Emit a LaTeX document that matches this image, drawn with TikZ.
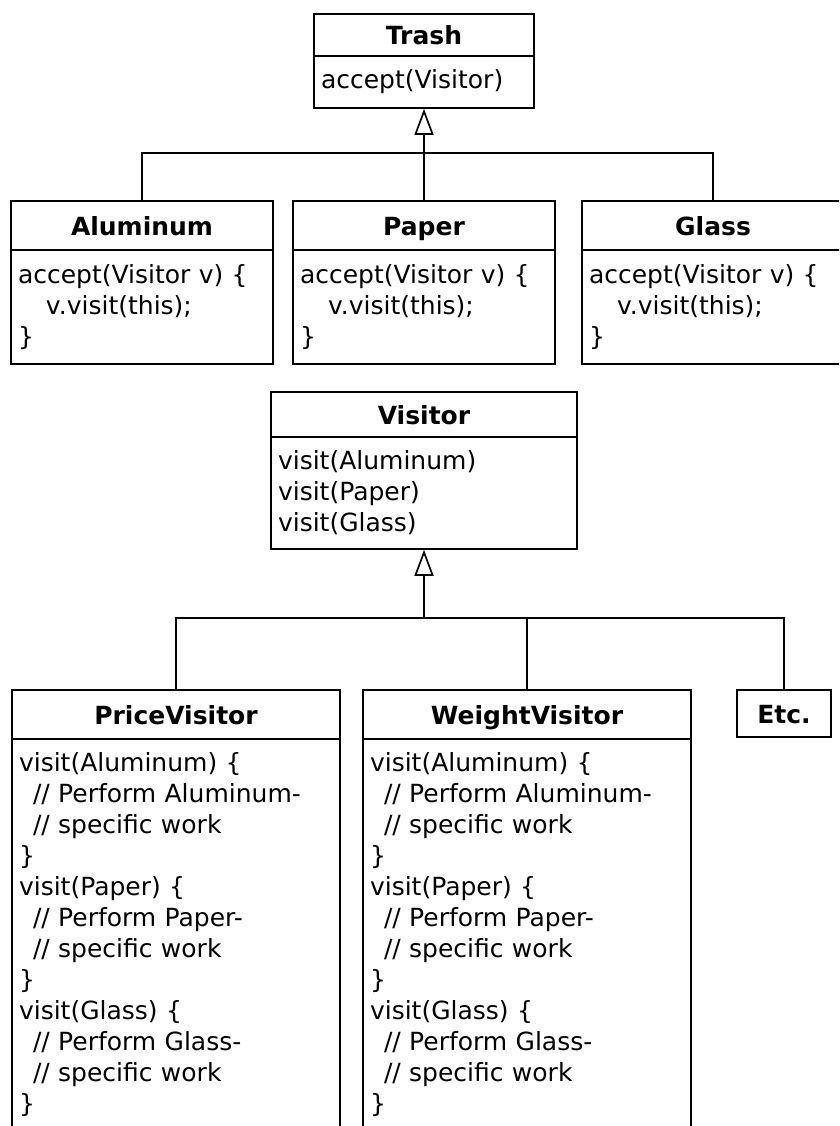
\documentclass[tikz,border=0pt]{standalone}
\usepackage{fontspec}
\setmainfont{DejaVu Sans}
\usetikzlibrary{arrows.meta}

\begin{document}
\begin{tikzpicture}[x=1pt,y=-1pt,line width=1.7pt,
  font=\fontsize{25}{31}\selectfont,
  head/.style={draw,font=\fontsize{25}{31}\selectfont\bfseries,inner sep=0pt,text height=19pt,text depth=0pt},
  body/.style={draw,align=left,inner xsep=7pt,inner ysep=0pt},
  inherits/.style={-{Triangle[open,length=26pt,width=19pt]}}]
\useasboundingbox (0,0) rectangle (839,1126);
\clip (0,0) rectangle (839,1126);
% trash hierarchy
\node (trash) at (424,35) [head,minimum width=220,minimum height=42] {Trash};
\node (trash-body) at (424,82) [body,text width=206,minimum height=52] {accept(Visitor)};
\node (aluminum) at (142,225.5) [head,minimum width=262,minimum height=49] {Aluminum};
\node (aluminum-body) at (142,307) [body,text width=248,minimum height=114] {accept(Visitor v) \{\\\hspace*{28pt}v.visit(this);\\\}};
\node (paper) at (424,225.5) [head,minimum width=262,minimum height=49] {Paper};
\node (paper-body) at (424,307) [body,text width=248,minimum height=114] {accept(Visitor v) \{\\\hspace*{28pt}v.visit(this);\\\}};
\node (glass) at (713,225.5) [head,minimum width=262,minimum height=49] {Glass};
\node (glass-body) at (713,307) [body,text width=248,minimum height=114] {accept(Visitor v) \{\\\hspace*{28pt}v.visit(this);\\\}};
\coordinate (top-bus) at (424,153);
\draw (aluminum.north) |- (top-bus);
\draw (glass.north) |- (top-bus);
\draw[inherits] (paper.north) -- (trash-body.south);
% visitor hierarchy
\node (visitor) at (424,414.5) [head,minimum width=306,minimum height=45] {Visitor};
\node (visitor-body) at (424,493) [body,text width=292,minimum height=112] {visit(Aluminum)\\visit(Paper)\\visit(Glass)};
\node (price) at (176,714.5) [head,minimum width=328,minimum height=49] {PriceVisitor};
\node (price-body) at (176,934.5) [body,text width=314,minimum height=391] {visit(Aluminum) \{\\\hspace*{14pt}// Perform Aluminum-\\\hspace*{14pt}// specific work\\\}\\visit(Paper) \{\\\hspace*{14pt}// Perform Paper-\\\hspace*{14pt}// specific work\\\}\\visit(Glass) \{\\\hspace*{14pt}// Perform Glass-\\\hspace*{14pt}// specific work\\\}};
\node (weight) at (527,714.5) [head,minimum width=328,minimum height=49] {WeightVisitor};
\node (weight-body) at (527,934.5) [body,text width=314,minimum height=391] {visit(Aluminum) \{\\\hspace*{14pt}// Perform Aluminum-\\\hspace*{14pt}// specific work\\\}\\visit(Paper) \{\\\hspace*{14pt}// Perform Paper-\\\hspace*{14pt}// specific work\\\}\\visit(Glass) \{\\\hspace*{14pt}// Perform Glass-\\\hspace*{14pt}// specific work\\\}};
\node (etc) at (784,713.5) [head,minimum width=94,minimum height=47] {Etc.};
\coordinate (bottom-bus) at (424,618);
\draw (price.north) |- (bottom-bus);
\draw (etc.north) |- (bottom-bus);
\draw (weight.north) -- (weight.north |- bottom-bus);
\draw[inherits] (bottom-bus) -- (visitor-body.south);
\end{tikzpicture}
\end{document}
